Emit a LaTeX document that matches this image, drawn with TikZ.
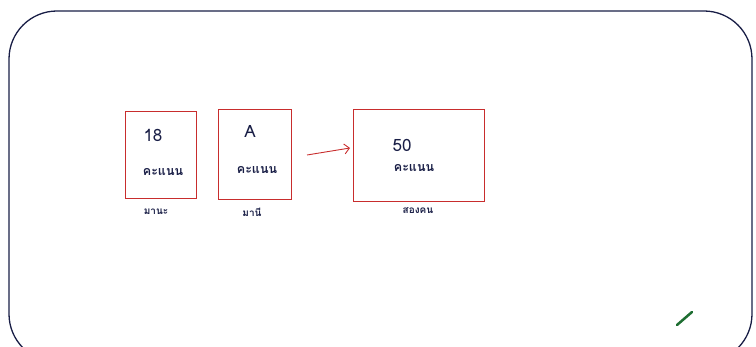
\documentclass[tikz,border=0pt]{standalone}
\usepackage{fontspec}
\usetikzlibrary{arrows.meta}
\newfontfamily\thaifont[Script=Thai]{Loma}
\definecolor{boxred}{RGB}{200,45,45}
\definecolor{ink}{RGB}{25,30,70}
\definecolor{pen}{RGB}{30,110,50}
\begin{document}
\begin{tikzpicture}[x=1pt,y=-1pt,
  scorebox/.style={draw=boxred,line width=1pt},
  numtext/.style={text=ink,font=\thaifont\fontsize{17}{17}\selectfont,inner sep=0},
  unittext/.style={text=ink,font=\thaifont\bfseries\fontsize{12.5}{12.5}\selectfont,inner sep=0},
  nametext/.style={text=ink,font=\thaifont\bfseries\fontsize{10}{10}\selectfont,inner sep=0}]
\useasboundingbox (0,0) rectangle (756,347);
\begin{scope}
\clip (0,0) rectangle (756,347);
\draw[draw=ink,line width=1.3pt,rounded corners=48pt] (9,11) rectangle (752,362);
\end{scope}
% boxes
\draw[scorebox] (125,112) rectangle (196,199);
\coordinate (b1) at (160.5,155.5);
\draw[scorebox] (218,110) rectangle (291,200);
\coordinate (b2) at (254.5,155);
\node[scorebox,minimum width=131pt,minimum height=92pt,inner sep=0] (b3) at (418.5,156) {};
\node[numtext] (n1) at (153,135) {18};
\node[unittext] (u1) at (163,172) {คะแนน};
\node[numtext] (n2) at (250,131) {A};
\node[unittext] (u2) at (257,170) {คะแนน};
\node[numtext] (n3) at (402,145) {50};
\node[unittext] (u3) at (414,168) {คะแนน};
\node[nametext] (l1) at (156,212) {มานะ};
\node[nametext] (l2) at (252,212) {มานี};
\node[nametext] (l3) at (418,211) {สองคน};
\coordinate (a0) at (307,155);
\coordinate (a1) at (350,148);
\draw[boxred,line width=0.9pt,-{Straight Barb[length=5pt]}] (a0) -- (a1);
\coordinate (g1) at (677,325);
\coordinate (g2) at (692,312);
\draw[pen,line width=2.5pt,line cap=round] (g1) -- (g2);
\end{tikzpicture}
\end{document}
